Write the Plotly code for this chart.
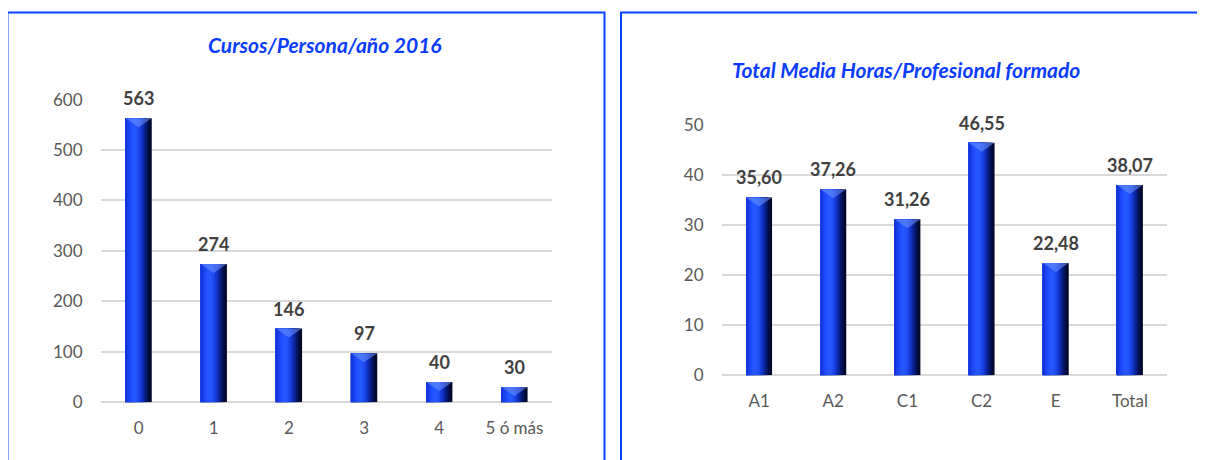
import plotly.graph_objects as go

# ---- data ----
left_title = "Cursos/Persona/año 2016"
left_categories = ["0", "1", "2", "3", "4", "5 ó más"]
left_values = [563, 274, 146, 97, 40, 30]

right_title = "Total Media Horas/Profesional formado"
right_categories = ["A1", "A2", "C1", "C2", "E", "Total"]
right_values = [35.60, 37.26, 31.26, 46.55, 22.48, 38.07]

# figure sized to the window (page body has an 8px margin)
FW, FH = 1197, 452
X0 = 8
Y0, PH = 18, FH - 19   # observed top of plotting area and its height on screen
def px(x):
    return (x - X0) / FW
def py(y):
    return 1 - (y - Y0) / PH

BAR_W = 0.35
# strip colours from left edge to right edge of bar (cylinder shading)
strip_colors = ["#1535d8", "#1a40ee", "#1f4cfa", "#2354ff", "#2558ff", "#2254fa",
                "#1d4aee", "#163cd8", "#0f2eb8", "#09218f", "#041665", "#020d40", "#01082a"]
N = len(strip_colors)

fig = go.Figure()
shapes = []

def add_bars(cats, vals, xa, ya):
    s = BAR_W / N
    for k in range(N - 1, -1, -1):
        fig.add_trace(go.Bar(
            x=cats, y=vals, xaxis=xa, yaxis=ya,
            width=s * (k + 1), offset=-BAR_W / 2,
            marker=dict(color=strip_colors[k], line=dict(width=0)),
            showlegend=False, hoverinfo="skip"))
    # bevel highlight at the top of every bar
    for i, v in enumerate(vals):
        shapes.append(dict(
            type="path", xref=xa, yref=ya, xsizemode="pixel", ysizemode="pixel",
            xanchor=i, yanchor=v, path="M -13,0 L 13,0 L 0,-9 Z",
            fillcolor="rgba(110,150,255,0.55)", line=dict(width=0), layer="above"))
        shapes.append(dict(
            type="path", xref=xa, yref=ya, xsizemode="pixel", ysizemode="pixel",
            xanchor=i, yanchor=0, path="M -13,-1 L 13,-1 L 13,-3 L -13,-3 Z",
            fillcolor="rgba(80,130,255,0.9)", line=dict(width=0), layer="above"))

label_font = dict(family="Lato", size=18, color="#404040", weight="bold")
annotations = []

def add_labels(cats, vals, xa, ya, fmt):
    for c, v in zip(cats, vals):
        annotations.append(dict(
            x=c, y=v, xref=xa, yref=ya, text=fmt(v), showarrow=False,
            xanchor="center", yanchor="middle", yshift=20, font=label_font))

add_bars(left_categories, left_values, "x", "y")
add_labels(left_categories, left_values, "x", "y", lambda v: f"{v:.0f}")
add_bars(right_categories, right_values, "x2", "y2")
add_labels(right_categories, right_values, "x2", "y2",
           lambda v: f"{v:.2f}".replace(".", ","))

tickfont = dict(family="Lato", size=17, color="#595959")
grid = "#d9d9d9"
title_font = dict(family="Lato", size=21, color="#0a3cff", weight="bold", style="italic")

annotations += [
    dict(text=left_title, xref="paper", yref="paper", x=px(325), y=py(44),
         showarrow=False, xanchor="center", yanchor="middle", font=title_font),
    dict(text=right_title, xref="paper", yref="paper", x=px(906), y=py(69),
         showarrow=False, xanchor="center", yanchor="middle", font=title_font),
]

shapes += [
    dict(type="rect", xref="paper", yref="paper", x0=px(7.5), x1=px(604.5),
         y0=py(520), y1=py(11.5), line=dict(color="#0844ff", width=2)),
    dict(type="rect", xref="paper", yref="paper", x0=px(621), x1=px(1260),
         y0=py(520), y1=py(11.5), line=dict(color="#0844ff", width=2)),
]

fig.update_layout(
    width=FW, height=FH, margin=dict(l=0, r=0, t=0, b=0),
    paper_bgcolor="white", plot_bgcolor="white",
    barmode="overlay", separators=",.",
    xaxis=dict(domain=[px(101), px(552)], anchor="y", showgrid=False,
               tickfont=tickfont, ticks="outside", ticklen=10, tickcolor="rgba(0,0,0,0)",
               showline=False, zeroline=False),
    yaxis=dict(domain=[py(403), py(99)], anchor="x", range=[0, 600], dtick=100,
               showgrid=True, gridcolor=grid, gridwidth=1.5, zeroline=True,
               zerolinecolor=grid, zerolinewidth=1.5, tickfont=tickfont,
               ticks="outside", ticklen=14, tickcolor="rgba(0,0,0,0)", showline=False),
    xaxis2=dict(domain=[px(722), px(1167)], anchor="y2", showgrid=False,
                tickfont=tickfont, ticks="outside", ticklen=10, tickcolor="rgba(0,0,0,0)",
                showline=False, zeroline=False),
    yaxis2=dict(domain=[py(376), py(125)], anchor="x2", range=[0, 50], dtick=10,
                showgrid=True, gridcolor=grid, gridwidth=1.5, zeroline=True,
                zerolinecolor=grid, zerolinewidth=1.5, tickfont=tickfont,
                ticks="outside", ticklen=14, tickcolor="rgba(0,0,0,0)", showline=False),
    shapes=shapes,
    annotations=annotations,
)

fig.write_html("out.html")
